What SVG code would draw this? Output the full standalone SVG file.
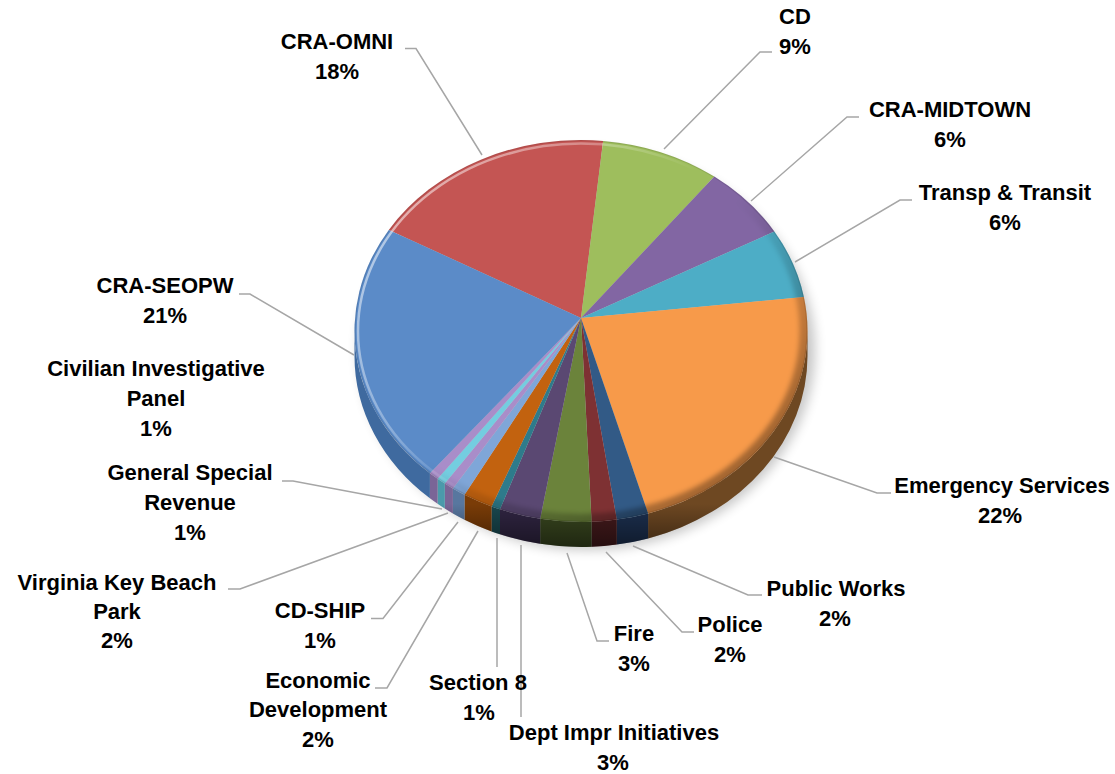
<svg xmlns="http://www.w3.org/2000/svg" width="1115" height="774" viewBox="0 0 1115 774">
<style>
.t{font-family:"Liberation Sans",Arial,sans-serif;font-weight:bold;font-size:22px;fill:#000;text-anchor:middle}
.ld{fill:none;stroke:#A6A6A6;stroke-width:1.5}
.sd{stroke:none}
</style>
<defs>
<filter id="shb" x="-20%" y="-20%" width="140%" height="140%"><feGaussianBlur stdDeviation="6"/></filter>
<filter id="b2" x="-10%" y="-10%" width="120%" height="120%"><feGaussianBlur stdDeviation="2.5"/></filter>
<clipPath id="topclip"><ellipse cx="581" cy="331" rx="226.5" ry="191"/></clipPath>
<linearGradient id="hl" x1="0" y1="0.2" x2="1" y2="0.8"><stop offset="0" stop-color="#fff" stop-opacity="0.6"/><stop offset="0.3" stop-color="#fff" stop-opacity="0.3"/><stop offset="0.5" stop-color="#fff" stop-opacity="0"/></linearGradient>
<linearGradient id="dk" x1="0" y1="0" x2="1" y2="1"><stop offset="0.5" stop-color="#000" stop-opacity="0"/><stop offset="0.8" stop-color="#000" stop-opacity="0.3"/><stop offset="1" stop-color="#000" stop-opacity="0.45"/></linearGradient>
<linearGradient id="sideShade" x1="0" y1="0" x2="0" y2="1"><stop offset="0" stop-color="#000" stop-opacity="0"/><stop offset="0.8" stop-color="#000" stop-opacity="0"/><stop offset="1" stop-color="#000" stop-opacity="0.45"/></linearGradient>
</defs>

<ellipse cx="587" cy="350" rx="228" ry="200" fill="#000" opacity="0.22" filter="url(#shb)"/>

<g id="pie-sides">
<path class="sd" fill="#6E4822" d="M807.5,331 A226.5,191 0 0 1 648.1,513.4 L648.1,538.4 A226.5,191 0 0 0 807.5,356 Z"/>
<path class="sd" fill="#1C3050" d="M648.1,513.4 A226.5,191 0 0 1 616.8,519.6 L616.8,544.6 A226.5,191 0 0 0 648.1,538.4 Z"/>
<path class="sd" fill="#451A1C" d="M616.8,519.6 A226.5,191 0 0 1 591.6,521.8 L591.6,546.8 A226.5,191 0 0 0 616.8,544.6 Z"/>
<path class="sd" fill="#39471F" d="M591.6,521.8 A226.5,191 0 0 1 540.2,518.8 L540.2,543.8 A226.5,191 0 0 0 591.6,546.8 Z"/>
<path class="sd" fill="#302542" d="M540.2,518.8 A226.5,191 0 0 1 500,509.3 L500,534.3 A226.5,191 0 0 0 540.2,543.8 Z"/>
<path class="sd" fill="#19484F" d="M500,509.3 A226.5,191 0 0 1 491.6,506.5 L491.6,531.5 A226.5,191 0 0 0 500,534.3 Z"/>
<path class="sd" fill="#7A3C07" d="M491.6,506.5 A226.5,191 0 0 1 464.5,494.8 L464.5,519.8 A226.5,191 0 0 0 491.6,531.5 Z"/>
<path class="sd" fill="#58779F" d="M464.5,494.8 A226.5,191 0 0 1 452.9,488.5 L452.9,513.5 A226.5,191 0 0 0 464.5,519.8 Z"/>
<path class="sd" fill="#7A6597" d="M452.9,488.5 A226.5,191 0 0 1 444.8,483.6 L444.8,508.6 A226.5,191 0 0 0 452.9,513.5 Z"/>
<path class="sd" fill="#4B9AAB" d="M444.8,483.6 A226.5,191 0 0 1 437.6,478.8 L437.6,503.8 A226.5,191 0 0 0 444.8,508.6 Z"/>
<path class="sd" fill="#7A6597" d="M437.6,478.8 A226.5,191 0 0 1 429.9,473.3 L429.9,498.3 A226.5,191 0 0 0 437.6,503.8 Z"/>
<path class="sd" fill="#3F6A9F" d="M429.9,473.3 A226.5,191 0 0 1 354.5,331 L354.5,356 A226.5,191 0 0 0 429.9,498.3 Z"/>
<path fill="url(#sideShade)" d="M807.5,331 A226.5,191 0 0 1 354.5,331 L354.5,356 A226.5,191 0 0 0 807.5,356 Z"/>
</g>

<g id="pie-slices">
<path id="s-cra-omni" fill="#C45553" d="M581,318 L388.8,229.9 A226.5,191 0 0 1 603.1,140.9 Z"/>
<path id="s-cd" fill="#9EBE5D" d="M581,318 L603.1,140.9 A226.5,191 0 0 1 714.3,176.6 Z"/>
<path id="s-cra-midtown" fill="#8266A3" d="M581,318 L714.3,176.6 A226.5,191 0 0 1 774.4,231.5 Z"/>
<path id="s-transp" fill="#4DADC6" d="M581,318 L774.4,231.5 A226.5,191 0 0 1 803.9,297 Z"/>
<path id="s-emergency" fill="#F79A4A" d="M581,318 L803.9,297 A226.5,191 0 0 1 648.1,513.4 Z"/>
<path id="s-public-works" fill="#325A86" d="M581,318 L648.1,513.4 A226.5,191 0 0 1 616.8,519.6 Z"/>
<path id="s-police" fill="#7E3133" d="M581,318 L616.8,519.6 A226.5,191 0 0 1 591.6,521.8 Z"/>
<path id="s-fire" fill="#6B833B" d="M581,318 L591.6,521.8 A226.5,191 0 0 1 540.2,518.8 Z"/>
<path id="s-dept-impr" fill="#5A4872" d="M581,318 L540.2,518.8 A226.5,191 0 0 1 500,509.3 Z"/>
<path id="s-section8" fill="#2E7B8B" d="M581,318 L500,509.3 A226.5,191 0 0 1 491.6,506.5 Z"/>
<path id="s-econ-dev" fill="#C2620F" d="M581,318 L491.6,506.5 A226.5,191 0 0 1 464.5,494.8 Z"/>
<path id="s-virginia-key" fill="#7FA6D8" d="M581,318 L464.5,494.8 A226.5,191 0 0 1 452.9,488.5 Z"/>
<path id="s-cd-ship" fill="#A98DC9" d="M581,318 L452.9,488.5 A226.5,191 0 0 1 444.8,483.6 Z"/>
<path id="s-general-special" fill="#74CDE0" d="M581,318 L444.8,483.6 A226.5,191 0 0 1 437.6,478.8 Z"/>
<path id="s-civilian" fill="#A98DC9" d="M581,318 L437.6,478.8 A226.5,191 0 0 1 429.9,473.3 Z"/>
<path id="s-cra-seopw" fill="#5B8BC8" d="M581,318 L429.9,473.3 A226.5,191 0 0 1 388.8,229.9 Z"/>
<g clip-path="url(#topclip)">
<ellipse cx="581" cy="331" rx="226.5" ry="191" fill="none" stroke="url(#dk)" stroke-width="16" filter="url(#b2)"/>
<ellipse cx="581" cy="331" rx="226.5" ry="191" fill="none" stroke="#000" stroke-opacity="0.1" stroke-width="2.5"/>
<ellipse cx="581" cy="331" rx="223" ry="187.5" fill="none" stroke="url(#hl)" stroke-width="2.5"/>
</g>
</g>

<g id="connectors">
<polyline class="ld" points="405,48.5 416,48.5 482,155"/>
<polyline class="ld" points="772,52 760,52 664,149"/>
<polyline class="ld" points="859,117 847,117 751,201"/>
<polyline class="ld" points="912,200 900,200 795,262"/>
<polyline class="ld" points="891,493 877,493 774,457"/>
<polyline class="ld" points="762,595 748,595 633,546"/>
<polyline class="ld" points="694,632 682,632 606,552"/>
<polyline class="ld" points="609,641 597,641 567,553"/>
<polyline class="ld" points="521,717 521,545"/>
<polyline class="ld" points="497,667 497,538"/>
<polyline class="ld" points="375,688 387,688 478,531"/>
<polyline class="ld" points="371,618.5 383,618.5 458,522"/>
<polyline class="ld" points="228,589 240,589 448,513"/>
<polyline class="ld" points="282,481 293,481 442,509"/>
<polyline class="ld" points="239,294 250,294 354,355"/>
</g>

<g id="label-cra-omni"><text class="t" x="337" y="49">CRA-OMNI</text><text class="t" x="337" y="79">18%</text></g>
<g id="label-cd"><text class="t" x="795" y="24">CD</text><text class="t" x="795" y="54">9%</text></g>
<g id="label-cra-midtown"><text class="t" x="950" y="117">CRA-MIDTOWN</text><text class="t" x="950" y="147">6%</text></g>
<g id="label-transp"><text class="t" x="1005" y="200">Transp &amp; Transit</text><text class="t" x="1005" y="230">6%</text></g>
<g id="label-emergency"><text class="t" x="1002" y="493">Emergency Services</text><text class="t" x="1000" y="523">22%</text></g>
<g id="label-public-works"><text class="t" x="836" y="596">Public Works</text><text class="t" x="835" y="626">2%</text></g>
<g id="label-police"><text class="t" x="730" y="632">Police</text><text class="t" x="730" y="662">2%</text></g>
<g id="label-fire"><text class="t" x="634" y="641">Fire</text><text class="t" x="634" y="671">3%</text></g>
<g id="label-dept-impr"><text class="t" x="614" y="740">Dept Impr Initiatives</text><text class="t" x="613" y="770">3%</text></g>
<g id="label-section8"><text class="t" x="478" y="690">Section 8</text><text class="t" x="479" y="720">1%</text></g>
<g id="label-econ-dev"><text class="t" x="318" y="688">Economic</text><text class="t" x="318" y="717">Development</text><text class="t" x="318" y="747">2%</text></g>
<g id="label-cd-ship"><text class="t" x="320" y="618">CD-SHIP</text><text class="t" x="320" y="648">1%</text></g>
<g id="label-virginia-key"><text class="t" x="117" y="590">Virginia Key Beach</text><text class="t" x="117" y="619">Park</text><text class="t" x="117" y="648">2%</text></g>
<g id="label-general-special"><text class="t" x="190" y="480">General Special</text><text class="t" x="190" y="510">Revenue</text><text class="t" x="190" y="540">1%</text></g>
<g id="label-civilian"><text class="t" x="156" y="376">Civilian Investigative</text><text class="t" x="156" y="406">Panel</text><text class="t" x="156" y="436">1%</text></g>
<g id="label-cra-seopw"><text class="t" x="165" y="293">CRA-SEOPW</text><text class="t" x="165" y="323">21%</text></g>
</svg>
